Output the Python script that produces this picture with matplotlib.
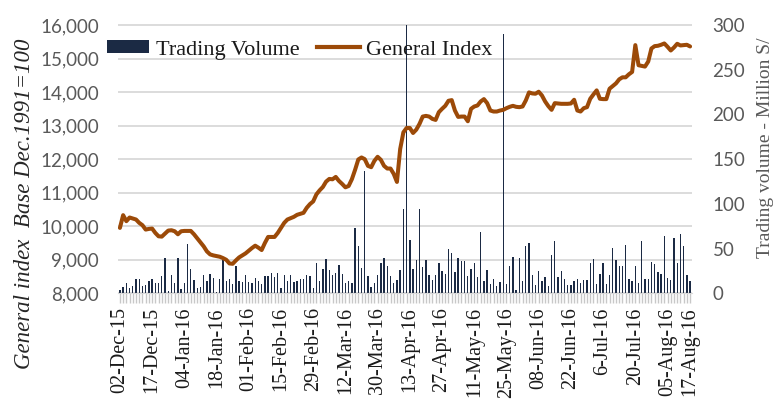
import numpy as np
import matplotlib.pyplot as plt
from matplotlib.lines import Line2D
from matplotlib.patches import Patch
from matplotlib.ticker import FuncFormatter
from matplotlib.transforms import blended_transform_factory


# tick labels shown under the category axis (one every 10 trading days)
DATE_LABELS = ["02-Dec-15", "17-Dec-15", "04-Jan-16", "18-Jan-16", "01-Feb-16",
               "15-Feb-16", "29-Feb-16", "12-Mar-16", "30-Mar-16", "13-Apr-16",
               "27-Apr-16", "11-May-16", "25-May-16", "08-Jun-16", "22-Jun-16",
               "6-Jul-16", "20-Jul-16", "05-Aug-16", "17-Aug-16"]
LABEL_POS = [0, 10, 20, 30, 40, 50, 60, 70, 80, 90,
             100, 110, 120, 130, 140, 150, 160, 170, 177]

# General index (left axis), one value per trading day
GENERAL_INDEX = [
    9950, 10330, 10150, 10260, 10230, 10200, 10100, 10030, 9900, 9920,
    9930, 9800, 9700, 9690, 9780, 9870, 9880, 9850, 9760, 9850,
    9860, 9860, 9860, 9760, 9640, 9520, 9400, 9250, 9160, 9130,
    9110, 9090, 9050, 9000, 8890, 8880, 8980, 9070, 9130, 9190,
    9270, 9350, 9420, 9360, 9290, 9500, 9680, 9680, 9680, 9800,
    9950, 10100, 10200, 10240, 10280, 10340, 10370, 10400, 10550, 10660,
    10740, 10950, 11070, 11170, 11330, 11410, 11400, 11470, 11350, 11260,
    11160, 11200, 11400, 11680, 11990, 12050, 12000, 11800, 11760, 11950,
    12070, 11980, 11800, 11720, 11720, 11560, 11320, 12300, 12800, 12930,
    12930, 12780, 12880, 13050, 13270, 13290, 13270, 13200, 13170, 13400,
    13500, 13590, 13740, 13760, 13450, 13260, 13270, 13270, 13130, 13500,
    13570, 13600, 13720, 13790, 13670, 13450, 13420, 13420, 13450, 13470,
    13520, 13560, 13590, 13560, 13550, 13570, 13750, 13990, 13960, 13950,
    14010, 13900, 13720, 13580, 13470, 13670, 13660, 13650, 13650, 13650,
    13660, 13770, 13450, 13420, 13520, 13550, 13800, 13930, 14050, 13800,
    13790, 13790, 14100, 14180, 14260, 14380, 14440, 14440, 14530, 14600,
    15400, 14800, 14780, 14760, 14910, 15300, 15370, 15380, 15410, 15450,
    15350, 15240, 15330, 15440, 15390, 15400, 15410, 15360,
]

# Trading volume, million (right axis)
TRADING_VOLUME = [
    4, 7, 11, 6, 8.5, 16, 16, 8.5, 9, 13.7,
    16, 12, 12, 19.7, 40, 3, 20, 12, 39, 5,
    11, 55, 27, 15, 6, 7, 20, 14, 22, 17,
    1.5, 16, 37, 14, 16, 10.5, 31, 13.5, 13, 20,
    13, 12, 17.5, 13.5, 10.5, 19.5, 19, 23, 18, 23,
    6, 21, 13.5, 20, 13, 13.5, 16, 16, 20, 19,
    6, 34, 14, 27, 38.5, 25.7, 21, 23, 31.5, 22,
    11.5, 14, 12, 73, 53, 28, 137, 19.5, 6.5, 11,
    21, 33.6, 39.5, 30, 19.5, 11.5, 15, 26, 94, 300,
    60, 27, 37, 94, 29, 37, 21, 15, 20.5, 33.5,
    25, 22, 50, 45, 23.5, 39, 36.5, 36, 19.7, 27,
    33.5, 18.5, 69, 14, 26, 10.4, 16.4, 8.5, 12.6, 290,
    10, 30.5, 40.6, 3.7, 40, 13.7, 53, 56, 21, 9.3,
    25, 13.7, 18, 8.5, 43, 58.5, 18.5, 25, 16, 9.7,
    9.7, 13.7, 16.4, 11, 15, 15, 34, 38, 10, 21.6,
    33.5, 10.8, 21, 51, 37, 30.5, 30.5, 54, 16, 14,
    30.5, 11, 58.5, 16, 16.4, 34.7, 33, 23.5, 22, 64.5,
    17.5, 15, 62, 33.5, 66, 52.5, 20, 13.7,
]

INDEX_TICKS = np.arange(8000, 16001, 1000)
VOLUME_TICKS = np.arange(0, 301, 50)

BAR_COLOR = "#1b2a44"
LINE_COLOR = "#9c4a08"
GRID_COLOR = "#d9d9d9"
TEXT_GRAY = "#595959"
SERIF = "Liberation Serif"


def main():
    plt.rcParams["font.family"] = "Lato"

    n = len(GENERAL_INDEX)
    x = np.arange(n)

    W, H = 781, 403
    fig = plt.figure(figsize=(W / 100, H / 100), dpi=100)
    left, right, top, bottom = 118.3, 691.7, 25.0, 293.3
    rect = [left / W, 1 - bottom / H, (right - left) / W, (bottom - top) / H]

    ax = fig.add_axes(rect)       # general index, left scale
    ax2 = ax.twinx()              # trading volume, right scale
    ax.set_zorder(ax2.get_zorder() + 1)
    ax.patch.set_visible(False)

    ax.set_xlim(-0.5, n - 0.5)
    ax.set_ylim(INDEX_TICKS[0], INDEX_TICKS[-1])
    ax2.set_ylim(VOLUME_TICKS[0], VOLUME_TICKS[-1])

    # gridlines follow the left scale but sit under the bars
    trans = blended_transform_factory(ax2.transAxes, ax.transData)
    ax2.hlines(INDEX_TICKS, 0, 1, transform=trans, colors=GRID_COLOR,
               lw=1.3, zorder=0, clip_on=False)

    ax2.bar(x, TRADING_VOLUME, width=0.42, color=BAR_COLOR, zorder=2)
    ax.plot(x, GENERAL_INDEX, color=LINE_COLOR, lw=2.9,
            solid_capstyle="round", solid_joinstyle="round")

    for a in (ax, ax2):
        for s in ("top", "left", "right", "bottom"):
            a.spines[s].set_visible(False)
    ax.spines["bottom"].set_visible(True)
    ax.spines["bottom"].set_color(GRID_COLOR)

    # x axis: a tick per trading day, label every 10 days
    labels = [""] * n
    for pos, lab in zip(LABEL_POS, DATE_LABELS):
        labels[pos] = lab
    ax.set_xticks(x)
    ax.set_xticklabels(labels, rotation=90, fontfamily=SERIF,
                       fontsize=14.5, color="#1a1a1a")
    ax.tick_params(axis="x", length=7, width=1, color="#c8c8c8", pad=3)

    ax.set_yticks(INDEX_TICKS)
    ax.yaxis.set_major_formatter(FuncFormatter(lambda v, p: f"{v:,.0f}"))
    ax.tick_params(axis="y", length=0, pad=14, labelsize=13.5,
                   labelcolor=TEXT_GRAY)

    ax2.set_yticks(VOLUME_TICKS)
    ax2.tick_params(axis="y", length=0, pad=15, labelsize=13.5,
                    labelcolor=TEXT_GRAY)

    fig.text(25 / W, 1 - 204 / H, "General index  Base Dec.1991=100",
             rotation=90, ha="center", va="center", fontfamily=SERIF,
             fontstyle="italic", fontsize=16.5, color="#262626")
    fig.text(765 / W, 1 - 148 / H, "Trading volume - Million S/",
             rotation=90, ha="center", va="center", fontfamily=SERIF,
             fontsize=14, color=TEXT_GRAY)

    handles = [
        Patch(facecolor=BAR_COLOR, label="Trading Volume"),
        Line2D([], [], color=LINE_COLOR, lw=3, label="General Index"),
    ]
    fig.legend(handles=handles, loc="center left",
               bbox_to_anchor=(107 / W, 1 - 50 / H), ncol=2, frameon=False,
               prop={"family": SERIF, "size": 16}, labelcolor="#1a1a1a",
               handlelength=1.9, handleheight=0.5, handletextpad=0.3,
               columnspacing=0.8, borderpad=0, borderaxespad=0)

    fig.savefig("out.png", dpi=100)


if __name__ == "__main__":
    main()
